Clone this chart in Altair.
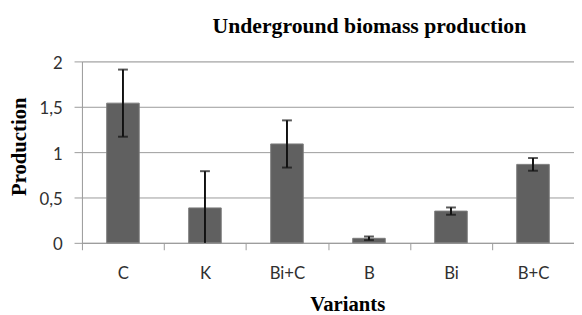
import altair as alt
import pandas as pd

categories = ["C", "K", "Bi+C", "B", "Bi", "B+C"]
production = [1.54, 0.385, 1.09, 0.05, 0.35, 0.865]
errors = [0.37, 0.405, 0.26, 0.02, 0.04, 0.07]
y_ticks = [0, 0.5, 1, 1.5, 2]

rows = []
caps = []
for c, v, e in zip(categories, production, errors):
    lo = v - e
    hi = v + e
    rows.append({"cat": c, "val": v, "lo": max(0.0, lo), "hi": hi})
    caps.append({"cat": c, "cap": hi})
    if lo > 0:
        caps.append({"cat": c, "cap": lo})
df = pd.DataFrame(rows)
df_caps = pd.DataFrame(caps)

LABEL_FONT = "Lato"
TITLE_FONT = "Liberation Serif"

x_enc = alt.X(
    "cat:N",
    sort=categories,
    scale=alt.Scale(paddingInner=0, paddingOuter=0),
    axis=alt.Axis(
        title="Variants",
        labelAngle=0,
        tickBand="extent",
        tickSize=7,
        tickColor="#9a9a9a",
        domainColor="#9a9a9a",
        labelFont=LABEL_FONT,
        labelFontSize=17,
        labelColor="#303030",
        labelBaseline="alphabetic",
        labelPadding=29,
        titleFont=TITLE_FONT,
        titleFontSize=21,
        titleFontWeight="bold",
        titleColor="#000000",
        titleX=269,
        titleY=69,
        titleAlign="center",
        titleBaseline="alphabetic",
        grid=False,
    ),
)

y_scale = alt.Scale(domain=[0, 2], nice=False, zero=True)

bars = alt.Chart(df).mark_bar(
    size=33, color="#606060", stroke="#7c7c7c", strokeWidth=1
).encode(
    x=x_enc,
    y=alt.Y(
        "val:Q",
        scale=y_scale,
        axis=alt.Axis(
            title="Production",
            values=y_ticks,
            labelExpr="replace(toString(datum.value), '.', ',')",
            tickSize=8,
            tickColor="#9a9a9a",
            domainColor="#9a9a9a",
            gridColor="#9a9a9a",
            labelFont=LABEL_FONT,
            labelFontSize=17,
            labelColor="#303030",
            labelPadding=12,
            labelOffset=2,
            titleFont=TITLE_FONT,
            titleFontSize=21,
            titleFontWeight="bold",
            titleColor="#000000",
            titleAngle=270,
            titleX=-57,
            titleY=86,
            titleAlign="center",
            titleBaseline="alphabetic",
        ),
    ),
)

err = alt.Chart(df).mark_rule(color="#111111", strokeWidth=2).encode(
    x=alt.X("cat:N", sort=categories),
    y=alt.Y("lo:Q", scale=y_scale),
    y2="hi:Q",
)

cap = alt.Chart(df_caps).mark_tick(color="#111111", size=10, thickness=2).encode(
    x=alt.X("cat:N", sort=categories),
    y=alt.Y("cap:Q", scale=y_scale),
)

chart = (
    alt.layer(bars, err, cap)
    .properties(
        width=499,
        height=184,
        title=alt.TitleParams(
            "Underground biomass production",
            font=TITLE_FONT,
            fontSize=22,
            fontWeight="bold",
            color="#000000",
            anchor="middle",
            dx=42,
            dy=28,
            baseline="alphabetic",
            offset=28,
        ),
        autosize=alt.AutoSizeParams(type="none"),
        padding={"left": 75, "top": 52, "right": 0, "bottom": 71},
    )
    .configure_view(stroke=None)
    .configure(background="white")
)

chart.save("out.html", embed_options={"renderer": "svg", "actions": False})
